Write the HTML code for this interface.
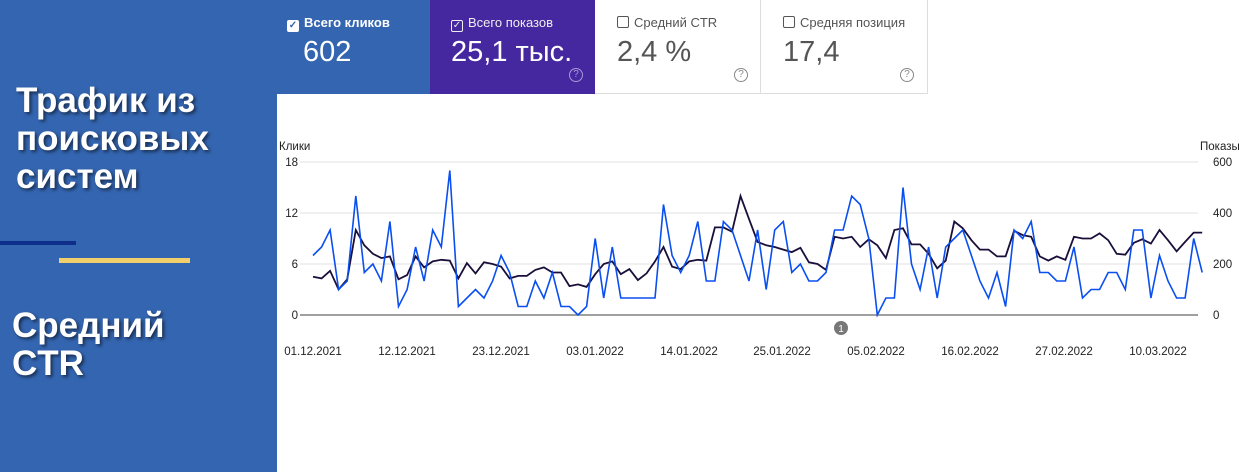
<!DOCTYPE html>
<html><head><meta charset="utf-8"><style>
*{margin:0;padding:0;box-sizing:border-box}
body{width:1260px;height:472px;overflow:hidden;background:#fff;font-family:"Liberation Sans",Arial,sans-serif;position:relative}
.left{position:absolute;left:0;top:0;width:277px;height:472px;background:#3465b0}
.lt{position:absolute;color:#fff;font-weight:bold;font-size:35px;line-height:38px;text-shadow:2px 2px 3px rgba(0,0,0,.55)}
.card{position:absolute;top:0;height:94px}
.lab{position:absolute;top:15px;font-size:13px}
.val{position:absolute;top:36px;font-size:29px}
.cb{display:inline-block;width:12px;height:12px;border:1.5px solid currentColor;border-radius:2px;vertical-align:-1px;margin-right:5px;font-size:10px;line-height:9px;text-align:center}
.q{position:absolute;width:14px;height:14px;border:1.3px solid #888;border-radius:50%;font-size:10px;text-align:center;line-height:12px;color:#888;top:68px}
.tk{font-size:11.5px;fill:#222}
</style></head><body>
<div class="left"></div>
<div class="lt" style="left:16px;top:82px">Трафик из<br>поисковых<br>систем</div>
<div style="position:absolute;left:0;top:241px;width:76px;height:4px;background:#0d2f8a"></div>
<div style="position:absolute;left:59px;top:258px;width:131px;height:5px;background:#f2cf6a"></div>
<div class="lt" style="left:12px;top:307px">Средний<br>CTR</div>

<div class="card" style="left:276px;width:155px;background:#3465b0;color:#fff">
<div class="lab" style="left:11px;font-weight:bold"><span class="cb" style="background:#fff;color:#3465b0;border-color:#fff">✓</span>Всего кликов</div>
<div class="val" style="left:27px">602</div></div>
<div class="card" style="left:430px;width:165px;background:#4527a0;color:#fff">
<div class="lab" style="left:21px;color:#eee"><span class="cb">✓</span>Всего показов</div>
<div class="val" style="left:21px">25,1 тыс.</div><div class="q" style="left:139px;border-color:#a79bd8;color:#a79bd8">?</div></div>
<div class="card" style="left:595px;width:166px;border-right:1px solid #ddd;border-bottom:1px solid #ddd;color:#555">
<div class="lab" style="left:22px"><span class="cb"></span>Средний CTR</div>
<div class="val" style="left:22px">2,4 %</div><div class="q" style="left:139px">?</div></div>
<div class="card" style="left:761px;width:167px;border-right:1px solid #ddd;border-bottom:1px solid #ddd;color:#555">
<div class="lab" style="left:22px"><span class="cb"></span>Средняя позиция</div>
<div class="val" style="left:22px">17,4</div><div class="q" style="left:139px">?</div></div>

<svg id="s" width="1260" height="472" style="position:absolute;left:0;top:0">
<text x="279" y="150" class="tk">Клики</text>
<text x="1200" y="150" class="tk">Показы</text>
<g stroke="#e2e2e2" stroke-width="1">
<line x1="300" x2="1198" y1="162" y2="162"/><line x1="300" x2="1198" y1="213" y2="213"/><line x1="300" x2="1198" y1="264" y2="264"/></g>
<line x1="300" x2="1198" y1="315" y2="315" stroke="#666" stroke-width="1.3"/>
<g class="tk"><text x="298" y="166" text-anchor="end">18</text><text x="298" y="217" text-anchor="end">12</text><text x="298" y="268" text-anchor="end">6</text><text x="298" y="319" text-anchor="end">0</text>
<text x="1213" y="166">600</text><text x="1213" y="217">400</text><text x="1213" y="268">200</text><text x="1213" y="319">0</text></g>
<g class="tk" text-anchor="middle">
<text x="313" y="355">01.12.2021</text><text x="407" y="355">12.12.2021</text><text x="501" y="355">23.12.2021</text><text x="595" y="355">03.01.2022</text><text x="689" y="355">14.01.2022</text><text x="782" y="355">25.01.2022</text><text x="876" y="355">05.02.2022</text><text x="970" y="355">16.02.2022</text><text x="1064" y="355">27.02.2022</text><text x="1158" y="355">10.03.2022</text></g>
<circle cx="841" cy="328" r="7" fill="#777"/><text x="841" y="332" font-size="10" fill="#fff" text-anchor="middle">1</text>
<polyline id="k" fill="none" stroke="#1a0f3a" stroke-width="1.8"/>
<polyline id="b" fill="none" stroke="#0a4ff0" stroke-width="1.6"/>
</svg>
<script>
var B=[7,8,10,3,4,14,5,6,4,11,1,3,8,4,10,8,17,1,2,3,2,4,7,5,1,1,4,2,5,1,1,0,1,9,2,8,2,2,2,2,2,13,7,5,7,11,4,4,11,10,7,4,10,3,
10,11,5,6,4,4,5,10,10,14,13,9,0,2,2,15,6,3,8,2,8,9,10,7,4,2,5,1,10,9,11,5,5,4,4,8,2,3,3,5,5,3,10,10,2,7,4,2,2,9,5];
var K=[4.5,4.3,5.2,3,4.2,10,8.2,7.2,6.7,6.9,4.2,4.7,6.9,5.6,6.3,6.5,6.4,4.3,6.1,4.9,6.2,6,5.7,4.3,4.6,4.6,5.3,5.6,5,5,3.4,3.6,3.3,4.8,6,6.3,4.8,5.4,4.1,4.9,6.3,8,5.7,5.4,6.3,6.5,6.4,10.3,10.3,9.8,14,11.3,8.6,8.2,
8,7.7,7.4,7.9,6.2,6,5.3,9.2,9,9.2,8,8.9,8.2,6.7,10,10.2,8.3,8.3,7.2,5.5,6.4,11,10.2,8.8,7.7,7.7,6.9,6.9,9.9,9.4,9.2,6.9,6.4,6.9,6.5,9.2,9,9,9.6,8.8,7.2,7.1,8.5,8.9,8.4,10,8.8,7.5,8.6,9.7,9.7];
function p(a){return a.map(function(v,i){return (313+i*8.55).toFixed(1)+","+(315-v*8.5).toFixed(1)}).join(" ")}
document.getElementById("b").setAttribute("points",p(B));
document.getElementById("k").setAttribute("points",p(K));
</script>
</body></html>
